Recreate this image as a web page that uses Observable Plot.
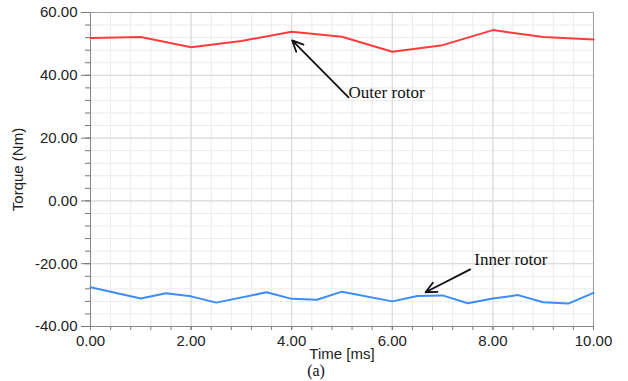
<!DOCTYPE html>
<html>
<head>
<meta charset="utf-8">
<script src="https://cdn.jsdelivr.net/npm/d3@7"></script>
<script src="https://cdn.jsdelivr.net/npm/@observablehq/plot@0.6"></script>
<style>
  body { margin: 0; background: #fff; }
  #chart { width: 628px; height: 381px; }
</style>
</head>
<body>
<div id="chart"></div>
<script>
// Outer rotor torque (Nm) vs time (ms)
const outerTime   = [0, 1, 2, 3, 4, 5, 6, 7, 8, 9, 10];
const outerTorque = [51.9, 52.2, 48.9, 50.9, 53.9, 52.3, 47.5, 49.6, 54.4, 52.2, 51.4];

// Inner rotor torque (Nm) vs time (ms)
const innerTime   = [0, 1, 1.5, 2, 2.5, 3.5, 4, 4.5, 5, 6, 6.5, 7, 7.5, 8, 8.5, 9, 9.5, 10];
const innerTorque = [-27.5, -31.1, -29.4, -30.4, -32.4, -29.1, -31.2, -31.5, -28.9, -32.0, -30.3, -30.1, -32.6, -31.1, -30.0, -32.3, -32.7, -29.3];

// Tick values
const xMajorTicks = [0, 2, 4, 6, 8, 10];
const xMinorTicks = d3.range(0, 26).map(i => +(i * 0.4).toFixed(1));
const yMajorTicks = [-40, -20, 0, 20, 40, 60];
const yMinorTicks = d3.range(0, 26).map(i => -40 + i * 4);

// Annotations (data units)
const labels = ["Outer rotor", "Inner rotor"];
const labelX = [5.13, 7.63];
const labelY = [34.4, -18.8];
const arrowX1 = [5.13, 7.55];
const arrowY1 = [33.0, -21.8];
const arrowX2 = [4.01, 6.66];
const arrowY2 = [51.1, -29.1];

const outer = outerTime.map((t, i) => ({t, v: outerTorque[i]}));
const inner = innerTime.map((t, i) => ({t, v: innerTorque[i]}));
const notes = labels.map((s, i) => ({s, x: labelX[i], y: labelY[i]}));
const arrows = labels.map((s, i) => ({x1: arrowX1[i], y1: arrowY1[i], x2: arrowX2[i], y2: arrowY2[i]}));

const plot = Plot.plot({
  width: 628,
  height: 381,
  marginLeft: 90,
  marginRight: 35,
  marginTop: 12,
  marginBottom: 55,
  style: {fontFamily: "'Liberation Sans', Arial, sans-serif", fontSize: "15px", background: "#fff"},
  x: {domain: [0, 10]},
  y: {domain: [-40, 60]},
  marks: [
    Plot.ruleX(xMinorTicks, {stroke: "#ececec", strokeWidth: 1}),
    Plot.ruleY(yMinorTicks, {stroke: "#ececec", strokeWidth: 1}),
    Plot.ruleX(xMajorTicks, {stroke: "#dcdcdc", strokeWidth: 1.2}),
    Plot.ruleY(yMajorTicks, {stroke: "#dcdcdc", strokeWidth: 1.2}),
    Plot.frame({stroke: "#a0a0a0"}),
    Plot.axisX(xMinorTicks, {tickSize: 4, tickFormat: () => "", stroke: "#777", label: null}),
    Plot.axisX(xMajorTicks, {tickSize: 4, tickPadding: 5, tickFormat: d => d.toFixed(2), stroke: "#777", fill: "#222", fontSize: 15,
      label: "Time [ms]", labelAnchor: "center", labelArrow: "none", labelOffset: 32}),
    Plot.axisY(yMinorTicks, {tickSize: 5, tickFormat: () => "", stroke: "#777", label: null}),
    Plot.axisY(yMajorTicks, {tickSize: 9, tickPadding: 4, tickFormat: d => d.toFixed(2), stroke: "#777", fill: "#222", fontSize: 15,
      label: "Torque (Nm)", labelAnchor: "center", labelArrow: "none", labelOffset: 78}),
    Plot.ruleX([0], {stroke: "#888"}),
    Plot.ruleY([-40], {stroke: "#888"}),
    Plot.line(outer, {x: "t", y: "v", stroke: "#ff3b3b", strokeWidth: 2}),
    Plot.line(inner, {x: "t", y: "v", stroke: "#3a8ef6", strokeWidth: 2}),
    Plot.arrow(arrows, {x1: "x1", y1: "y1", x2: "x2", y2: "y2", stroke: "#111", strokeWidth: 1.8, headLength: 10, headAngle: 50}),
    Plot.text(notes, {x: "x", y: "y", text: "s", textAnchor: "start", fontFamily: "'Liberation Serif', 'Times New Roman', serif", fontSize: 17, fill: "#111"}),
    Plot.text(["(a)"], {frameAnchor: "bottom", lineAnchor: "middle", dy: 44, dx: -26, text: d => d, fontFamily: "'Liberation Serif', 'Times New Roman', serif", fontSize: 16, fill: "#111"})
  ]
});
document.getElementById("chart").appendChild(plot);
</script>
</body>
</html>
